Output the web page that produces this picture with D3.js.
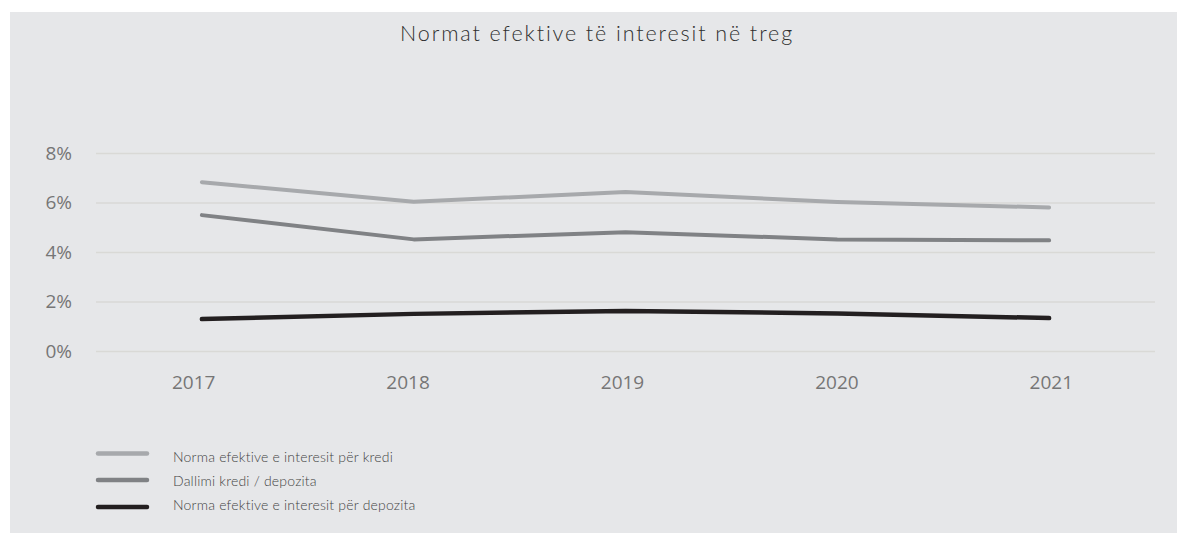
<!DOCTYPE html>
<html>
<head>
<meta charset="utf-8">
<script src="https://cdn.jsdelivr.net/npm/d3@7"></script>
<style>
  html, body { margin: 0; padding: 0; background: #ffffff; }
  svg { display: block; }
</style>
</head>
<body>
<svg id="chart" width="1178" height="533"></svg>
<script>
// Effective interest rates in the market, 2017–2021 (percent)
const years = ["2017", "2018", "2019", "2020", "2021"];
const kredi = [6.82, 6.03, 6.42, 6.02, 5.80];
const dallimi = [5.49, 4.51, 4.80, 4.51, 4.47];
const depozita = [1.29, 1.50, 1.62, 1.52, 1.33];
const yTicks = [0, 2, 4, 6, 8];
const seriesNames = [
  "Norma efektive e interesit për kredi",
  "Dallimi kredi / depozita",
  "Norma efektive e interesit për depozita"
];
const titleText = "Normat efektive të interesit në treg";

const series = [
  { name: seriesNames[0], values: kredi, color: "#a7a9ac", width: 4 },
  { name: seriesNames[1], values: dallimi, color: "#808285", width: 4 },
  { name: seriesNames[2], values: depozita, color: "#231f20", width: 4.5 }
];

const svg = d3.select("#chart");
const W = 1178, H = 533;

// panel background
svg.append("rect")
  .attr("x", 10).attr("y", 12)
  .attr("width", W - 11).attr("height", H - 12)
  .attr("fill", "#e6e7e9");

const plot = { left: 96, right: 1155, top: 153, bottom: 351 };

const x = d3.scalePoint()
  .domain(years)
  .range([plot.left, plot.right])
  .padding(0.5);

// category labels sit on a slightly wider spread than the line points
const xLabel = x.copy().range([86, 1158]);

const y = d3.scaleLinear()
  .domain([0, 8])
  .range([plot.bottom, plot.top]);

// title
svg.append("text")
  .attr("x", 597).attr("y", 41)
  .attr("text-anchor", "middle")
  .attr("font-family", "Lato, 'Open Sans', sans-serif")
  .attr("font-weight", 300)
  .attr("font-size", 21.5)
  .attr("letter-spacing", 1.9)
  .attr("fill", "#2f2f2f")
  .text(titleText);

// horizontal gridlines + y labels
const yAxis = d3.axisLeft(y)
  .tickValues(yTicks)
  .tickSize(-(plot.right - plot.left))
  .tickPadding(24)
  .tickFormat(d => d + "%");

const gy = svg.append("g")
  .attr("transform", `translate(${plot.left},0)`)
  .call(yAxis);
gy.select(".domain").remove();
gy.selectAll(".tick line")
  .attr("stroke", "#d9d9d6")
  .attr("stroke-width", 1.3);
gy.selectAll(".tick text")
  .attr("font-family", "'Open Sans', sans-serif")
  .attr("font-size", 19)
  .attr("fill", "#767676");

// x labels
const xAxis = d3.axisBottom(xLabel).tickSize(0);
const gx = svg.append("g")
  .attr("transform", `translate(0,${plot.bottom})`)
  .call(xAxis);
gx.select(".domain").remove();
gx.selectAll(".tick text")
  .attr("y", 38)
  .attr("dy", 0)
  .attr("font-family", "'Open Sans', sans-serif")
  .attr("font-size", 19)
  .attr("fill", "#767676");

// lines
const line = d3.line()
  .x((d, i) => x(years[i]))
  .y(d => y(d));

svg.append("g")
  .selectAll("path")
  .data(series)
  .join("path")
  .attr("d", d => line(d.values))
  .attr("fill", "none")
  .attr("stroke", d => d.color)
  .attr("stroke-width", d => d.width)
  .attr("stroke-linecap", "round")
  .attr("stroke-linejoin", "round");

// legend: swatch row positions and text baselines
const legendLineY = [453.5, 480, 507];
const legendTextY = [461.5, 486, 510];
const lg = svg.append("g")
  .selectAll("g")
  .data(series)
  .join("g");

lg.append("line")
  .attr("x1", 98).attr("x2", 147)
  .attr("y1", (d, i) => legendLineY[i]).attr("y2", (d, i) => legendLineY[i])
  .attr("stroke", d => d.color)
  .attr("stroke-width", 4.5)
  .attr("stroke-linecap", "round");

lg.append("text")
  .attr("x", 173).attr("y", (d, i) => legendTextY[i])
  .attr("font-family", "Lato, 'Open Sans', sans-serif")
  .attr("font-weight", 300)
  .attr("font-size", 14)
  .attr("letter-spacing", 0.2)
  .attr("fill", "#444444")
  .text(d => d.name);
</script>
</body>
</html>
